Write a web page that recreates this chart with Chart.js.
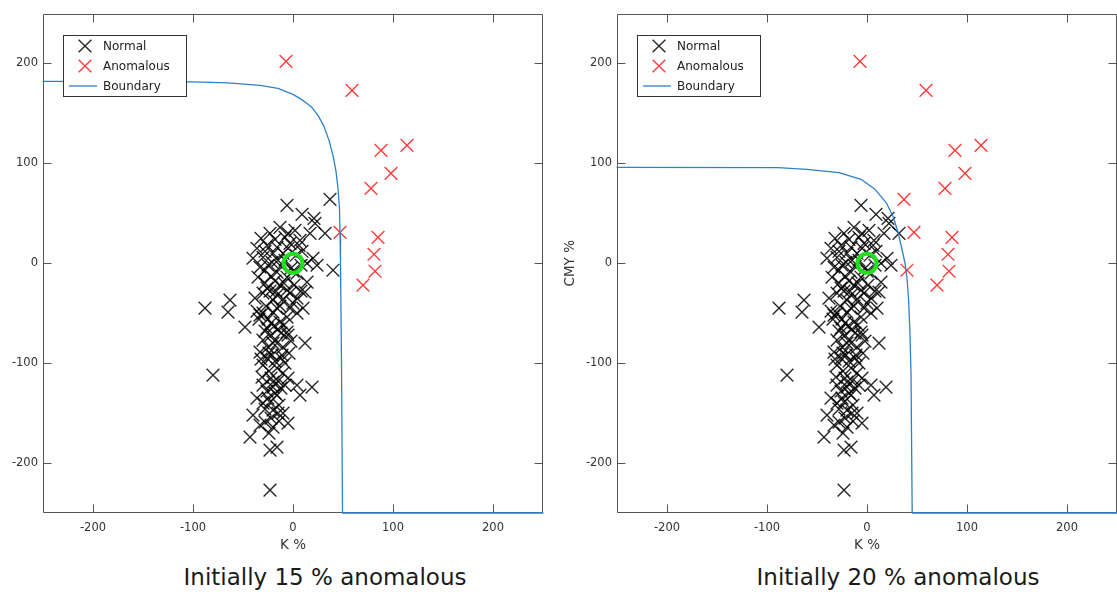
<!DOCTYPE html>
<html>
<head>
<meta charset="utf-8">
<title>Anomaly boundary</title>
<script src="https://cdn.jsdelivr.net/npm/chart.js@4.4.0/dist/chart.umd.min.js"></script>
<style>
  html, body { margin: 0; padding: 0; background: #fff; }
  body { width: 1117px; height: 592px; position: relative; overflow: hidden; font-family: 'DejaVu Sans', sans-serif; }
  .panel { position: absolute; top: 0; }
  .caption { position: absolute; top: 563px; width: 340px; text-align: center; font-size: 23px; line-height: 28px; color: #1a1a1a; }
</style>
</head>
<body>
<div class="panel" style="left:0;width:557px"><canvas id="dnLeft" width="557" height="560"></canvas></div>
<div class="panel" style="left:557px;width:574px"><canvas id="dnRight" width="574" height="560"></canvas></div>
<div class="caption" style="left:155px">Initially 15 % anomalous</div>
<div class="caption" style="left:728px">Initially 20 % anomalous</div>
<script>
// K % / CMY % samples that stay normal in both runs
var normalPoints = [
    [-6, 58], [9, 49], [21, 45], [-23, 30], [-13, 36], [-5, 30], [7, 23], [17, 30], [22, 40], [32, 30],
    [-26, 18], [-16, 16], [-3, 20], [-40, 5], [-30, 6], [-21, 1], [20, 5], [24, -2], [14, 0],
    [-28, -7], [-16, -9], [-6, -14], [4, -10], [14, -19], [-28, -20], [-13, -22],
    [-88, -45], [-63, -37], [-65, -49], [-48, -64], [-38, -35], [-33, -52], [-26, -25], [-16, -32],
    [-6, -27], [4, -35], [12, -29], [10, -45], [-3, -45], [-20, -49], [-13, -59], [-26, -65],
    [-6, -69], [-30, -77], [-16, -80], [12, -80], [-33, -89], [-21, -92], [-11, -92], [-30, -102],
    [-16, -105], [-80, -112], [-31, -114], [-20, -119], [-36, -48], [-34, -56],
    [-30, -122], [-20, -124], [4, -122], [19, -124], [7, -132], [-36, -135], [-23, -139], [-16, -132],
    [-20, -147], [-40, -152], [-28, -159], [-20, -164], [-5, -160], [-43, -174], [-23, -187],
    [-16, -184], [-23, -227],
    [-32, 25], [-18, 24], [-8, 26], [2, 33], [-10, 10], [3, 8], [9, 12], [-20, 10], [-25, -2],
    [-12, -3], [-2, -5], [8, -2], [-35, -14], [-22, -13], [-9, -20], [1, -22], [8, -28], [-30, -30],
    [-20, -37], [-10, -36], [0, -40], [-27, -43], [-25, -56], [-16, -45], [-6, -54], [4, -50],
    [-19, -63], [-9, -62], [-22, -72], [-12, -70], [-2, -78], [-25, -84], [-10, -84], [-4, -90],
    [-26, -95], [-18, -98], [-8, -100], [-24, -108], [-10, -110], [-5, -115], [-26, -128],
    [-12, -125], [-14, -142], [-28, -146], [-10, -150], [-24, -170], [-33, -162], [-14, -158],
    [-28, 12], [-15, 3], [-5, 15], [-33, -4], [-18, -18], [-3, -30], [-23, -28], [-13, -43],
    [-30, -50], [-22, -60], [-15, -66], [-28, -68], [-5, -72], [-20, -80], [-12, -95], [-24, -90],
    [-32, -96], [-15, -118], [-22, -115], [-8, -122], [-25, -135], [-18, -130], [-30, -140],
    [-15, -150], [-22, -155], [0, -8], [-8, 3], [6, 18], [-36, 15], [-17, -28]
];

// normal at 15 %, flagged at 20 %
var borderlinePoints = [[37, 64], [40, -7]];

var anomalousPoints = [
    [-7, 202], [59, 173], [88, 113], [114, 118], [98, 90], [78, 75],
    [47, 31], [85, 26], [81, 9], [82, -8], [70, -22]
];

var centerPoint = [[0, 0]];

var boundary15 = [
    [-250, 182], [-100, 181.5], [-65, 180.5], [-33, 178], [-15, 175], [0, 169], [10, 163],
    [18, 157], [25, 148], [31, 137], [36, 123], [40, 108], [43, 92], [45, 75], [46.5, 55],
    [47, 30], [47.5, 0], [48.5, -100], [49.5, -250], [250, -250]
];

var boundary20 = [
    [-250, 96], [-89, 95.7], [-60, 94], [-28, 90.7], [-6, 84], [8, 74], [19, 61], [26, 47],
    [31, 31], [35, 14], [38, 0], [40, -15], [41.5, -35], [42.8, -65], [44, -110],
    [45.2, -250], [250, -250]
];

var tickValues = [-200, -100, 0, 100, 200];

var FONT = "'DejaVu Sans', sans-serif";
Chart.defaults.font.family = FONT;

function xy(list) {
    return list.map(function (p) { return {x: p[0], y: p[1]}; });
}

// box + inward ticks on all four sides
var axesFrame = {
    id: 'axesFrame',
    beforeDatasetsDraw: function (chart) {
        var ctx = chart.ctx, a = chart.chartArea, sx = chart.scales.x, sy = chart.scales.y;
        var L = Math.round(a.left) + 0.5, R = Math.round(a.right) - 0.5;
        var T = Math.round(a.top) + 0.5, B = Math.round(a.bottom) - 0.5;
        ctx.save();
        ctx.strokeStyle = '#555';
        ctx.lineWidth = 1;
        ctx.beginPath();
        sx.ticks.forEach(function (t) {
            var px = Math.round(sx.getPixelForValue(t.value)) + 0.5;
            ctx.moveTo(px, B); ctx.lineTo(px, B - 8);
            ctx.moveTo(px, T); ctx.lineTo(px, T + 8);
        });
        sy.ticks.forEach(function (t) {
            var py = Math.round(sy.getPixelForValue(t.value)) + 0.5;
            ctx.moveTo(L, py); ctx.lineTo(L + 8, py);
            ctx.moveTo(R, py); ctx.lineTo(R - 8, py);
        });
        ctx.rect(L, T, R - L, B - T);
        ctx.stroke();
        ctx.restore();
    }
};

// boxed legend in the upper left corner of the plot
var boxLegend = {
    id: 'boxLegend',
    afterDatasetsDraw: function (chart) {
        var ctx = chart.ctx, a = chart.chartArea;
        var x0 = Math.round(a.left) + 20, y0 = Math.round(a.top) + 21;
        var items = chart.data.datasets.filter(function (d) { return d.label; });
        ctx.save();
        ctx.fillStyle = '#fff';
        ctx.fillRect(x0, y0, 124, 62);
        ctx.strokeStyle = '#333';
        ctx.lineWidth = 1;
        ctx.strokeRect(x0 + 0.5, y0 + 0.5, 123, 61);
        items.forEach(function (d, i) {
            var cy = y0 + 11 + i * 20, cx = x0 + 22;
            ctx.strokeStyle = d.borderColor;
            ctx.lineWidth = d.borderWidth;
            ctx.beginPath();
            if (d.showLine) {
                ctx.moveTo(x0 + 6, cy);
                ctx.lineTo(x0 + 34, cy);
            } else {
                var h = d.pointRadius * Math.SQRT1_2;
                ctx.moveTo(cx - h, cy - h); ctx.lineTo(cx + h, cy + h);
                ctx.moveTo(cx + h, cy - h); ctx.lineTo(cx - h, cy + h);
            }
            ctx.stroke();
            ctx.fillStyle = '#222';
            ctx.font = '12px ' + FONT;
            ctx.textBaseline = 'middle';
            ctx.fillText(d.label, x0 + 40, cy + 1);
        });
        ctx.restore();
    }
};

function makeChart(id, normal, anomalous, boundary, yTitle, yWidth) {
    var ctx = document.getElementById(id).getContext('2d');
    return new Chart(ctx, {
        type: 'scatter',
        data: {
            datasets: [{
                label: 'Normal',
                data: xy(normal),
                pointStyle: 'crossRot',
                pointRadius: 9,
                borderColor: 'rgba(0,0,0,0.85)',
                borderWidth: 1.4,
                order: 3
            }, {
                label: 'Anomalous',
                data: xy(anomalous),
                pointStyle: 'crossRot',
                pointRadius: 9,
                borderColor: '#ff3b3b',
                borderWidth: 1.4,
                order: 2
            }, {
                label: 'Boundary',
                data: xy(boundary),
                showLine: true,
                pointRadius: 0,
                borderColor: '#2d80cc',
                borderWidth: 1.3,
                borderJoinStyle: 'round',
                borderCapStyle: 'round',
                tension: 0,
                clip: 3,
                order: 1
            }, {
                data: xy(centerPoint),
                pointStyle: 'circle',
                pointRadius: 9.5,
                borderColor: '#1ee01e',
                backgroundColor: 'rgba(0,0,0,0)',
                borderWidth: 4,
                order: 0
            }]
        },
        options: {
            responsive: false,
            animation: false,
            events: [],
            layout: {
                padding: {left: 0, top: 13, right: 14, bottom: 0}
            },
            plugins: {
                legend: {display: false},
                tooltip: {enabled: false}
            },
            scales: {
                x: {
                    type: 'linear',
                    min: -250,
                    max: 250,
                    afterBuildTicks: function (s) { s.ticks = tickValues.map(function (v) { return {value: v}; }); },
                    afterFit: function (s) { s.height = 47; },
                    grid: {display: false, drawTicks: false},
                    border: {display: false},
                    ticks: {color: '#333', font: {size: 11.5}, padding: 8, maxRotation: 0},
                    title: {display: true, text: 'K %', color: '#333', font: {size: 13.5}, padding: {top: 0, bottom: 6}}
                },
                y: {
                    type: 'linear',
                    min: -250,
                    max: 250,
                    afterBuildTicks: function (s) { s.ticks = tickValues.map(function (v) { return {value: v}; }); },
                    afterFit: function (s) { s.width = yWidth; },
                    grid: {display: false, drawTicks: false},
                    border: {display: false},
                    ticks: {color: '#333', font: {size: 11.5}, padding: 5},
                    title: {display: !!yTitle, text: yTitle, color: '#333', font: {size: 13.5}, padding: {top: 5, bottom: 0}}
                }
            }
        },
        plugins: [axesFrame, boxLegend]
    });
}

var left = makeChart('dnLeft', normalPoints.concat(borderlinePoints), anomalousPoints, boundary15, '', 43);
var right = makeChart('dnRight', normalPoints, anomalousPoints.concat(borderlinePoints), boundary20, 'CMY %', 60);
</script>
</body>
</html>
